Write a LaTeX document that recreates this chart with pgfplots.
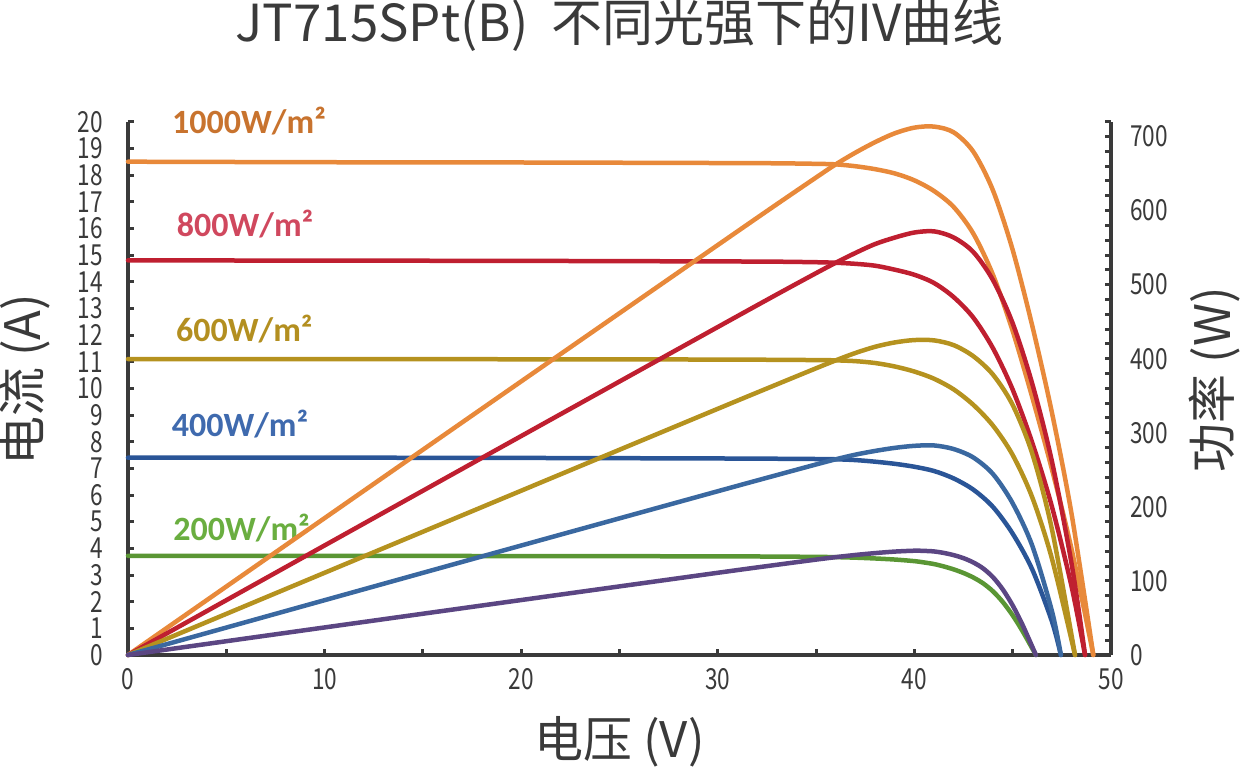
\documentclass[border=0pt]{standalone}
\usepackage{fontspec}
\usepackage{pgfplots}
\pgfplotsset{compat=1.18}
\setmainfont{Noto Sans CJK SC}
\newfontfamily\cjk{Noto Sans CJK SC}
\newfontfamily\tickfont[FakeStretch=0.78]{Noto Sans CJK SC}
\newfontfamily\carl{Carlito}
\definecolor{cOr}{HTML}{E8893A}
\definecolor{cRd}{HTML}{BF1F30}
\definecolor{cGd}{HTML}{B5921F}
\definecolor{cBl}{HTML}{2A5597}
\definecolor{cBlP}{HTML}{3A68A0}
\definecolor{cGn}{HTML}{5A9634}
\definecolor{cPu}{HTML}{5B4683}
\definecolor{axc}{HTML}{3A3A3A}
\definecolor{tOr}{HTML}{C8732E}
\definecolor{tRd}{HTML}{D0485E}
\definecolor{tGd}{HTML}{B38F20}
\definecolor{tBl}{HTML}{3F6AAE}
\definecolor{tGn}{HTML}{6AAE40}
\pgfplotsset{
  base/.style={
    at={(0,0)}, anchor=south west,
    scale only axis, width=983pt, height=533.3pt,
    xmin=0, xmax=50, ymin=0,
    clip=false,
    axis line style={draw=axc, line width=4pt},
    tick align=inside,
    major tick length=6pt, minor tick length=6pt,
    tick style={draw=axc, line width=3pt},
    /pgf/number format/assume math mode=true,
    every axis plot/.append style={line width=4.5pt, smooth, line join=round, line cap=round, no markers},
  }
}
\begin{document}
\begin{tikzpicture}[x=1pt,y=1pt]
\useasboundingbox (-128,-113) rectangle (1114,655);
\begin{axis}[base,
  ymax=20,
  axis x line*=bottom, axis y line*=left,
  xtick={0,10,...,50}, minor xtick={5,15,...,45},
  ytick={0,1,...,20},
  xticklabel style={font=\tickfont\fontsize{29}{29}\selectfont, text=axc, inner sep=0pt, anchor=north, yshift=-13pt},
  yticklabel style={font=\tickfont\fontsize{29}{29}\selectfont, text=axc, inner sep=0pt, anchor=east, xshift=-25pt},
  xlabel={电压 (V)},
  xlabel style={at={(axis description cs:0.5,0)}, anchor=center, inner sep=0pt, yshift=-87pt, font=\cjk\fontsize{49}{49}\selectfont, text=axc},
  ylabel={电流 (A)},
  ylabel style={at={(axis description cs:-0.1048,0.516)}, anchor=center, inner sep=0pt, font=\cjk\fontsize{49}{49}\selectfont, text=axc},
  title={JT715SPt(B)\ \ 不同光强下的IV曲线},
  title style={at={(axis description cs:0.5,1)}, anchor=base, inner sep=0pt, yshift=74pt, font=\cjk\fontsize{51}{51}\selectfont, text=axc},
]
\addplot[cOr] coordinates {(0,18.50)(10,18.48)(20,18.47)(30,18.45)(33,18.44)(35,18.42)(36,18.40)(37,18.33)(38,18.22)(39,18.06)(40,17.80)(41,17.40)(42,16.80)(43,15.80)(44,14.25)(45,12.15)(46,9.65)(47,6.95)(48,3.95)(49.1,0)};
\addplot[cRd] coordinates {(0,14.80)(10,14.79)(20,14.78)(30,14.76)(33,14.75)(35,14.73)(36,14.71)(37,14.67)(38,14.60)(39,14.45)(40,14.26)(41,13.95)(42,13.42)(43,12.65)(44,11.50)(45,9.95)(46,7.95)(47,5.55)(48,2.55)(48.68,0)};
\addplot[cGd] coordinates {(0,11.10)(10,11.10)(20,11.09)(30,11.08)(33,11.07)(35,11.06)(36,11.05)(37,11.02)(38,10.95)(39,10.82)(40,10.63)(41,10.36)(42,9.96)(43,9.38)(44,8.60)(45,7.50)(46,5.90)(47,3.60)(48.17,0)};
\addplot[cBl] coordinates {(0,7.40)(10,7.40)(20,7.39)(30,7.37)(33,7.36)(35,7.35)(36,7.34)(37,7.31)(38,7.25)(39,7.17)(40,7.06)(41,6.90)(42,6.62)(43,6.20)(44,5.55)(45,4.55)(46,3.20)(47,1.25)(47.45,0)};
\addplot[cGn] coordinates {(0,3.72)(10,3.72)(20,3.71)(30,3.70)(33,3.69)(35,3.68)(36,3.67)(37,3.65)(38,3.62)(39,3.58)(40,3.52)(40.5,3.47)(41,3.41)(41.5,3.32)(42,3.21)(42.5,3.075)(43,2.905)(43.5,2.685)(44,2.385)(44.5,1.985)(45,1.485)(45.5,0.895)(46.18,0)};
\node[anchor=base west, inner sep=0pt, font=\carl\bfseries\fontsize{34}{34}\selectfont, text=tOr] at (axis cs:2.24,19.57) {1000W/m²};
\node[anchor=base west, inner sep=0pt, font=\carl\bfseries\fontsize{34}{34}\selectfont, text=tRd] at (axis cs:2.48,15.68) {800W/m²};
\node[anchor=base west, inner sep=0pt, font=\carl\bfseries\fontsize{34}{34}\selectfont, text=tGd] at (axis cs:2.44,11.74) {600W/m²};
\node[anchor=base west, inner sep=0pt, font=\carl\bfseries\fontsize{34}{34}\selectfont, text=tBl] at (axis cs:2.22,8.19) {400W/m²};
\node[anchor=base west, inner sep=0pt, font=\carl\bfseries\fontsize{34}{34}\selectfont, text=tGn] at (axis cs:2.30,4.31) {200W/m²};
\end{axis}
\begin{axis}[base,
  ymax=720,
  axis x line=none, axis y line*=right,
  ytick={0,100,...,700}, minor ytick={20,40,...,720},
  yticklabel style={font=\tickfont\fontsize{29}{29}\selectfont, text=axc, inner sep=0pt, anchor=west, xshift=19pt},
  ylabel={功率 (W)},
  ylabel style={at={(axis description cs:1.1058,0.516)}, anchor=center, inner sep=0pt, font=\cjk\fontsize{49}{49}\selectfont, text=axc},
]
\addplot[cOr] coordinates {(0,0)(10,184.8)(20,369.4)(30,553.5)(33,608.52)(35,644.7)(36,662.4)(37,678.21)(38,692.36)(39,704.34)(40,712.0)(41,713.4)(42,705.6)(43,679.4)(44,627.0)(45,546.75)(46,443.9)(47,326.65)(48,189.6)(49.1,0)};
\addplot[cRd] coordinates {(0,0)(10,147.9)(20,295.6)(30,442.8)(33,486.75)(35,515.55)(36,529.56)(37,542.79)(38,554.8)(39,563.55)(40,570.4)(41,571.95)(42,563.64)(43,543.95)(44,506.0)(45,447.75)(46,365.7)(47,260.85)(48,122.4)(48.68,0)};
\addplot[cGd] coordinates {(0,0)(10,111.0)(20,221.8)(30,332.4)(33,365.31)(35,387.1)(36,397.8)(37,407.74)(38,416.1)(39,421.98)(40,425.2)(41,424.76)(42,418.32)(43,403.34)(44,378.4)(45,337.5)(46,271.4)(47,169.2)(48.17,0)};
\addplot[cBlP] coordinates {(0,0)(10,74.0)(20,147.8)(30,221.1)(33,242.88)(35,257.25)(36,264.24)(37,270.47)(38,275.5)(39,279.63)(40,282.4)(41,282.9)(42,278.04)(43,266.6)(44,244.2)(45,204.75)(46,147.2)(47,58.75)(47.45,0)};
\addplot[cPu] coordinates {(0,0)(10,37.2)(20,74.2)(30,111.0)(33,121.77)(35,128.8)(36,132.12)(37,135.05)(38,137.56)(39,139.62)(40,140.8)(40.5,140.54)(41,139.81)(41.5,137.78)(42,134.82)(42.5,130.69)(43,124.92)(43.5,116.80)(44,104.94)(44.5,88.33)(45,66.83)(45.5,40.72)(46.18,0)};
\end{axis}
\end{tikzpicture}
\end{document}
